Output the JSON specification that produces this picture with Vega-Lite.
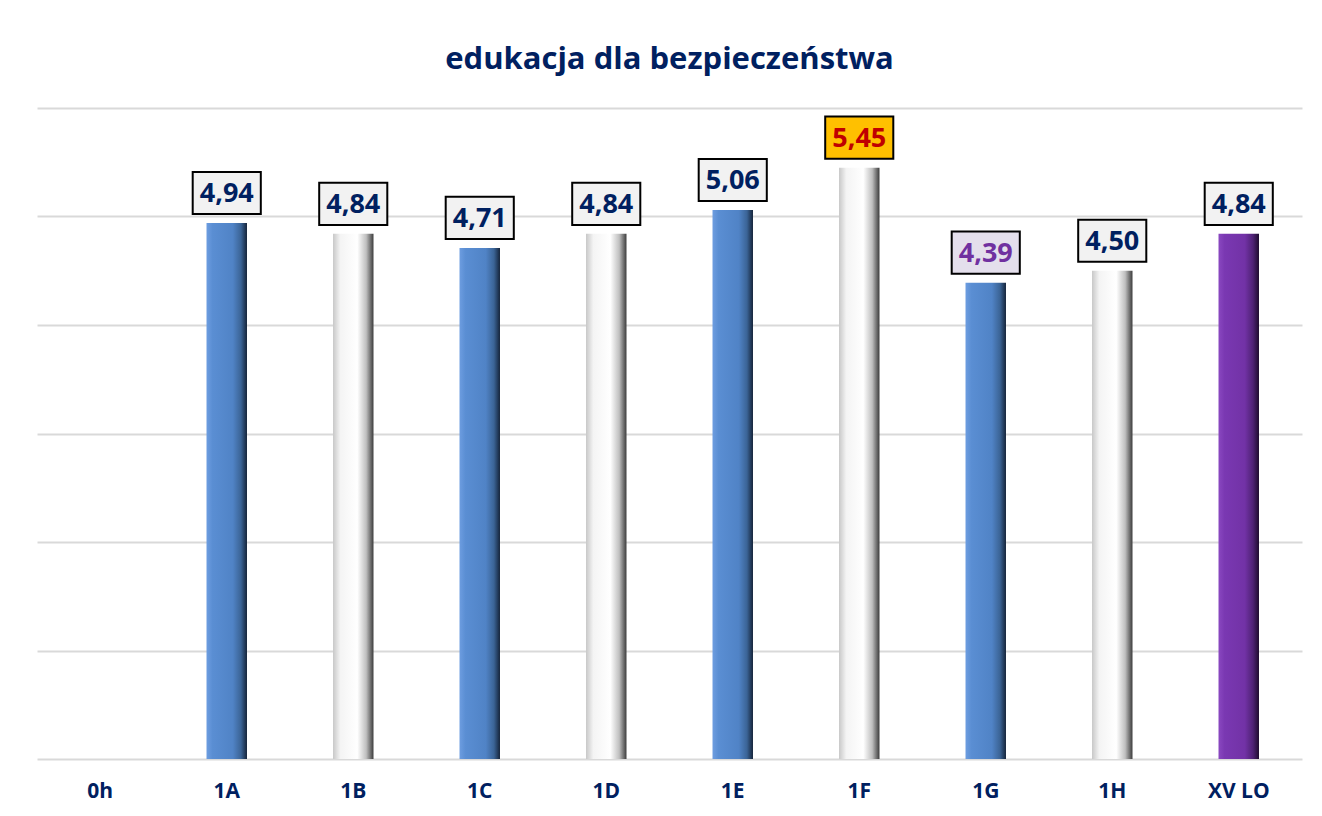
{
  "$schema": "https://vega.github.io/schema/vega-lite/v6.json",
  "autosize": {"type": "fit", "contains": "padding"},
  "width": 1322,
  "height": 816,
  "padding": {"left": 37, "right": 20, "top": 44, "bottom": 15},
  "background": "#ffffff",
  "title": {
    "text": "edukacja dla bezpieczeństwa",
    "font": "Open Sans",
    "fontSize": 31,
    "fontWeight": "bold",
    "color": "#002060",
    "anchor": "middle",
    "frame": "group",
    "offset": 32
  },
  "config": {
    "view": {"stroke": null},
    "axis": {"gridColor": "#d9d9d9", "gridWidth": 2},
    "locale": {
      "number": {"decimal": ",", "thousands": " ", "grouping": [3], "currency": ["", " zł"]}
    }
  },
  "data": {
    "values": [
      {"klasa": "0h", "ocena": null, "rodzaj": "brak", "wyroznienie": "standard"},
      {"klasa": "1A", "ocena": 4.94, "rodzaj": "niebieski", "wyroznienie": "standard"},
      {"klasa": "1B", "ocena": 4.84, "rodzaj": "bialy", "wyroznienie": "standard"},
      {"klasa": "1C", "ocena": 4.71, "rodzaj": "niebieski", "wyroznienie": "standard"},
      {"klasa": "1D", "ocena": 4.84, "rodzaj": "bialy", "wyroznienie": "standard"},
      {"klasa": "1E", "ocena": 5.06, "rodzaj": "niebieski", "wyroznienie": "standard"},
      {"klasa": "1F", "ocena": 5.45, "rodzaj": "bialy", "wyroznienie": "max"},
      {"klasa": "1G", "ocena": 4.39, "rodzaj": "niebieski", "wyroznienie": "min"},
      {"klasa": "1H", "ocena": 4.50, "rodzaj": "bialy", "wyroznienie": "standard"},
      {"klasa": "XV LO", "ocena": 4.84, "rodzaj": "szkola", "wyroznienie": "standard"}
    ]
  },
  "encoding": {
    "x": {
      "field": "klasa",
      "type": "nominal",
      "scale": {
        "domain": ["0h", "1A", "1B", "1C", "1D", "1E", "1F", "1G", "1H", "XV LO"],
        "paddingInner": 0.68,
        "paddingOuter": 0.34
      },
      "axis": {
        "title": null,
        "labelAngle": 0,
        "labelFont": "Open Sans",
        "labelFontSize": 21,
        "labelFontWeight": "bold",
        "labelColor": "#002060",
        "labelPadding": 21,
        "ticks": false,
        "domain": false,
        "grid": false
      }
    },
    "y": {
      "field": "ocena",
      "type": "quantitative",
      "scale": {"domain": [0, 6], "nice": false, "zero": true},
      "axis": {
        "title": null,
        "labels": false,
        "ticks": false,
        "domain": false,
        "values": [0, 1, 2, 3, 4, 5, 6],
        "grid": true
      }
    }
  },
  "layer": [
    {
      "transform": [{"filter": "datum.rodzaj === 'niebieski'"}],
      "mark": {
        "type": "bar",
        "color": {
          "gradient": "linear",
          "x1": 0, "x2": 1, "y1": 0, "y2": 0,
          "stops": [
            {"offset": 0, "color": "#6d9de0"},
            {"offset": 0.15, "color": "#5a8ed3"},
            {"offset": 0.65, "color": "#5083c6"},
            {"offset": 0.85, "color": "#3b6496"},
            {"offset": 1, "color": "#15243a"}
          ]
        }
      }
    },
    {
      "transform": [{"filter": "datum.rodzaj === 'bialy'"}],
      "mark": {
        "type": "bar",
        "color": {
          "gradient": "linear",
          "x1": 0, "x2": 1, "y1": 0, "y2": 0,
          "stops": [
            {"offset": 0, "color": "#c8c8c8"},
            {"offset": 0.18, "color": "#f4f4f4"},
            {"offset": 0.6, "color": "#ffffff"},
            {"offset": 0.82, "color": "#bfbfbf"},
            {"offset": 1, "color": "#3c3c3c"}
          ]
        }
      }
    },
    {
      "transform": [{"filter": "datum.rodzaj === 'szkola'"}],
      "mark": {
        "type": "bar",
        "color": {
          "gradient": "linear",
          "x1": 0, "x2": 1, "y1": 0, "y2": 0,
          "stops": [
            {"offset": 0, "color": "#8a48c0"},
            {"offset": 0.15, "color": "#7a38b2"},
            {"offset": 0.65, "color": "#7232a6"},
            {"offset": 0.85, "color": "#4f2275"},
            {"offset": 1, "color": "#1e0c2e"}
          ]
        }
      }
    },
    {
      "transform": [{"filter": "isValid(datum.ocena)"}],
      "mark": {
        "type": "point",
        "shape": "M-1.5,-0.93L1.5,-0.93L1.5,0.93L-1.5,0.93Z",
        "size": 2061,
        "filled": true,
        "opacity": 1,
        "stroke": "#000000",
        "strokeWidth": 2,
        "yOffset": -30
      },
      "encoding": {
        "fill": {
          "field": "wyroznienie",
          "type": "nominal",
          "scale": {"domain": ["standard", "max", "min"], "range": ["#f2f2f2", "#ffc000", "#e4dfec"]},
          "legend": null
        }
      }
    },
    {
      "transform": [{"filter": "isValid(datum.ocena)"}],
      "mark": {
        "type": "text",
        "font": "Open Sans",
        "fontSize": 27,
        "fontWeight": "bold",
        "baseline": "middle",
        "align": "center",
        "yOffset": -29
      },
      "encoding": {
        "text": {"field": "ocena", "type": "quantitative", "format": ".2f", "formatType": "number"},
        "color": {
          "field": "wyroznienie",
          "type": "nominal",
          "scale": {"domain": ["standard", "max", "min"], "range": ["#002060", "#c00000", "#7030a0"]},
          "legend": null
        }
      }
    }
  ]
}
